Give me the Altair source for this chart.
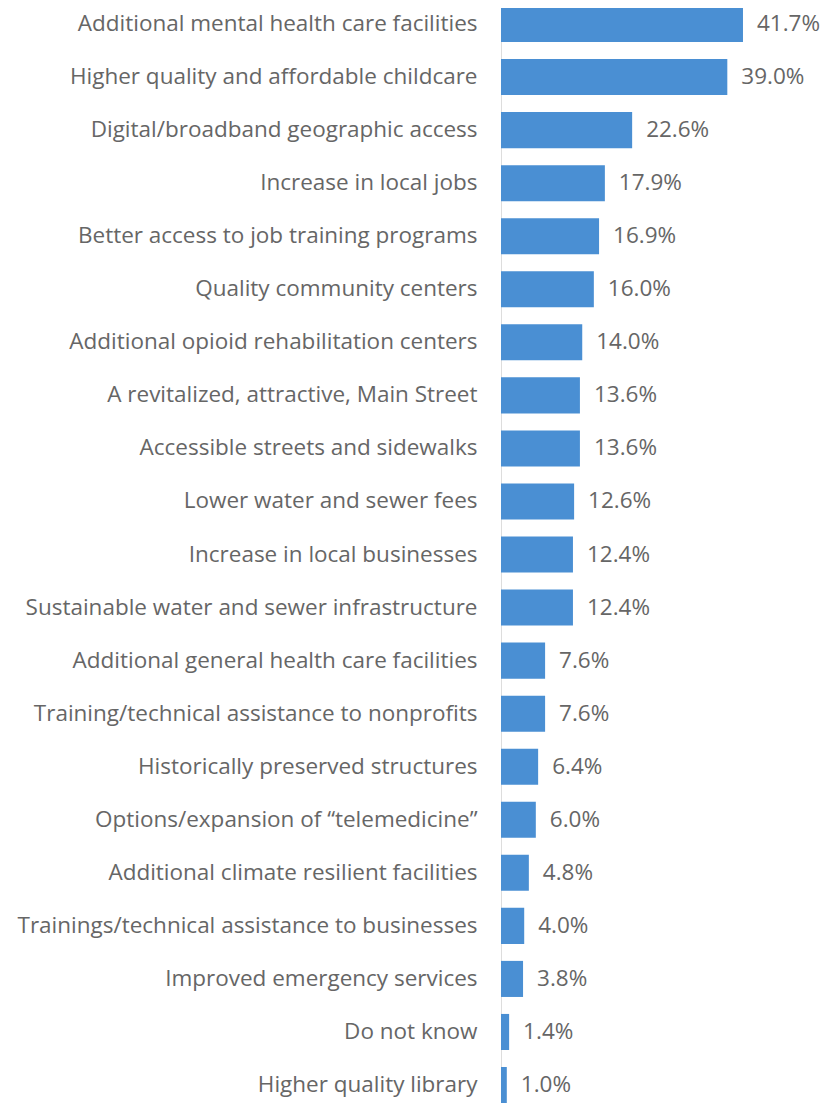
import altair as alt
import pandas as pd

categories = [
    "Additional mental health care facilities",
    "Higher quality and affordable childcare\u00a0",
    "Digital/broadband geographic access",
    "Increase in local jobs",
    "Better access to job training programs",
    "Quality community centers",
    "Additional opioid rehabilitation centers",
    "A revitalized, attractive, Main Street",
    "Accessible streets and sidewalks\u00a0",
    "Lower water and sewer fees\u00a0",
    "Increase in local businesses",
    "Sustainable water and sewer infrastructure",
    "Additional general health care facilities",
    "Training/technical assistance to nonprofits",
    "Historically preserved structures",
    "Options/expansion of \u201ctelemedicine\u201d",
    "Additional climate resilient facilities\u00a0",
    "Trainings/technical assistance to businesses",
    "Improved emergency services",
    "Do not know",
    "Higher quality library",
]
values = [41.7, 39.0, 22.6, 17.9, 16.9, 16.0, 14.0, 13.6, 13.6, 12.6, 12.4,
          12.4, 7.6, 7.6, 6.4, 6.0, 4.8, 4.0, 3.8, 1.4, 1.0]

df = pd.DataFrame({"category": categories, "value": values})

FONT = "Open Sans"
GRAY = "#666666"
W = 321
STEP = 53.05
H = STEP * 20.68

y = alt.Y("category:N", sort=categories, title=None,
          scale=alt.Scale(paddingInner=0.32, paddingOuter=0.0),
          axis=alt.Axis(domain=False, ticks=False, labelLimit=490,
                        labelPadding=24, labelFontSize=22.5, labelFont=FONT,
                        labelColor=GRAY))
x = alt.X("value:Q", title=None, scale=alt.Scale(domain=[0, W / 5.803], nice=False),
          axis=None)

bars = alt.Chart(df).mark_bar(color="#4A8FD3").encode(x=x, y=y)
text = alt.Chart(df).transform_calculate(
    label="format(datum.value, '.1f') + '%'"
).mark_text(align="left", baseline="middle", dx=14, fontSize=22.5,
            font=FONT, color=GRAY).encode(x=x, y=y, text="label:N")

chart = (bars + text).properties(
    width=W, height=H,
    autosize=alt.AutoSizeParams(type="none"),
    padding={"left": 493, "top": -2, "right": 0, "bottom": 0},
).configure_view(stroke=None).configure(background="white")

chart.save("out.html", embed_options={"renderer": "svg", "actions": False})
